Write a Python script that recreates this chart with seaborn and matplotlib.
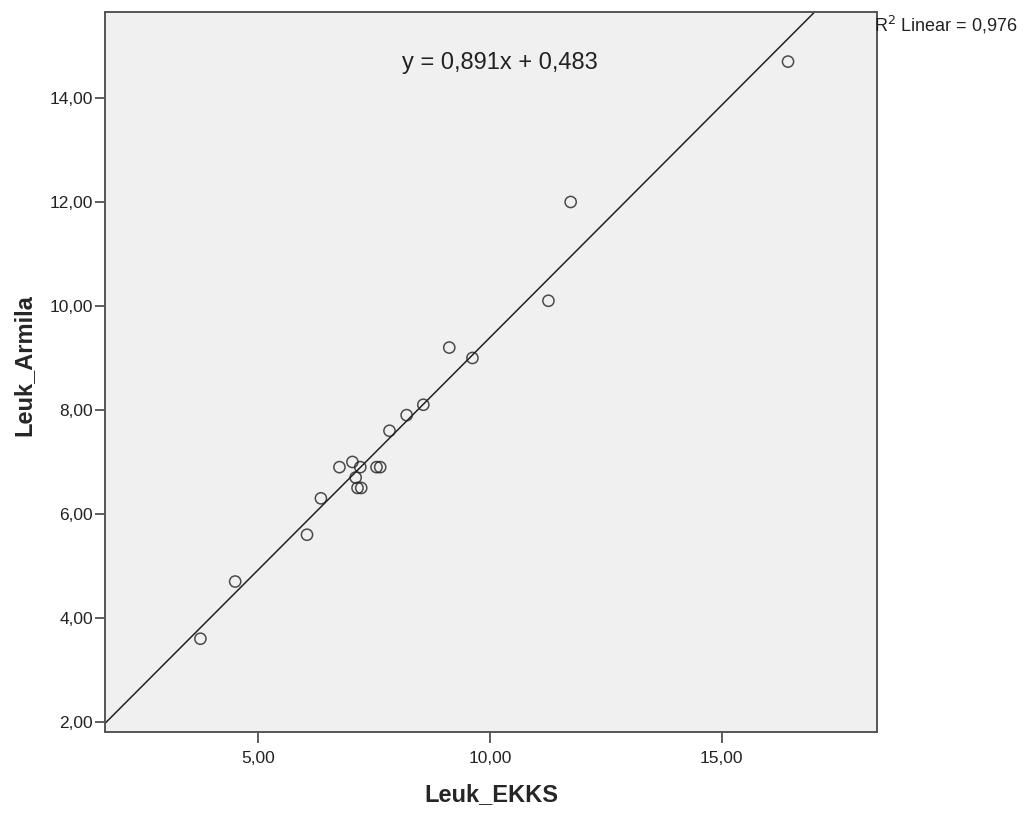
import numpy as np
import pandas as pd
import matplotlib.pyplot as plt
from matplotlib.ticker import FuncFormatter, FixedLocator
import seaborn as sns

# values
leuk_ekks = [3.75, 4.50, 6.05, 6.35, 6.75, 7.03, 7.10, 7.20, 7.14, 7.22,
             7.55, 7.63, 7.83, 8.20, 8.56, 9.12, 9.62, 11.26, 11.74, 16.43]
leuk_armila = [3.6, 4.7, 5.6, 6.3, 6.9, 7.0, 6.7, 6.9, 6.5, 6.5,
               6.9, 6.9, 7.6, 7.9, 8.1, 9.2, 9.0, 10.1, 12.0, 14.7]
x_ticks = [5, 10, 15]
y_ticks = [2, 4, 6, 8, 10, 12, 14]
equation_label = "y = 0,891x + 0,483"
r2_label = "Linear = 0,976"

df = pd.DataFrame({"Leuk_EKKS": leuk_ekks, "Leuk_Armila": leuk_armila})

sns.set_style("white")
plt.rcParams["font.family"] = ["Liberation Sans", "DejaVu Sans"]

fig = plt.figure(figsize=(10.25, 8.14), dpi=100)
ax = fig.add_axes([0.1024, 0.101, 0.7532, 0.884])
ax.set_facecolor("#f0f0f0")

ax.set_xlim(1.69, 18.35)
ax.set_ylim(1.81, 15.65)

sns.regplot(data=df, x="Leuk_EKKS", y="Leuk_Armila", ax=ax, ci=None,
            truncate=False,
            scatter_kws=dict(s=65, facecolors="none", edgecolors="#222222",
                             linewidths=1.1),
            line_kws=dict(color="#222222", lw=1.1))
ax.set_xlim(1.69, 18.35)
ax.set_ylim(1.81, 15.65)

fmt = FuncFormatter(lambda v, p: "{:.2f}".format(v).replace(".", ","))
ax.xaxis.set_major_locator(FixedLocator(x_ticks))
ax.yaxis.set_major_locator(FixedLocator(y_ticks))
ax.xaxis.set_major_formatter(fmt)
ax.yaxis.set_major_formatter(fmt)
ax.tick_params(direction="out", width=1.2, color="#444444",
               labelsize=12.5, labelcolor="#222222",
               bottom=True, left=True)
ax.tick_params(axis="x", length=8, pad=6)
ax.tick_params(axis="y", length=7, pad=1.5)

for s in ax.spines.values():
    s.set_color("#555555")
    s.set_linewidth(1.4)

ax.set_xlabel("Leuk_EKKS", fontsize=17, fontweight="bold", labelpad=12)
ax.set_ylabel("Leuk_Armila", fontsize=17, fontweight="bold")
ax.yaxis.set_label_coords(-0.09, 0.51)

ax.text(0.512, 0.93, equation_label, transform=ax.transAxes, ha="center",
        va="center", fontsize=17, color="#222222")
fig.text(0.853, 0.969, "R$^2$ " + r2_label, ha="left", va="center",
         fontsize=13, color="#222222")

fig.savefig("out.png", dpi=100)
